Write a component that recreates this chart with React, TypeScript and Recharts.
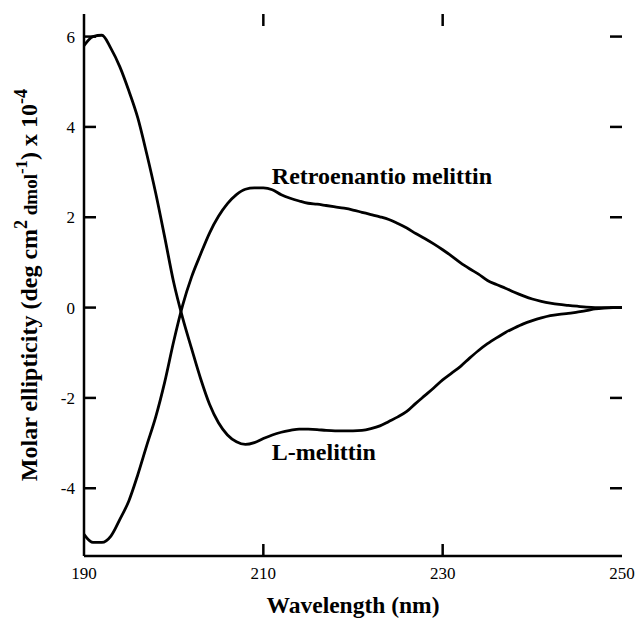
import React from 'react';
import { LineChart, Line, XAxis, YAxis, Label, ReferenceDot, ReferenceLine } from 'recharts';

// wavelength grid (nm)
const wavelengths = [
  190, 191, 192, 193, 194, 195, 196, 197, 198, 199,
  200, 201, 202, 203, 204, 205, 206, 207, 208, 209,
  210, 211, 212, 213, 214, 215, 216, 217, 218, 219,
  220, 221, 222, 223, 224, 225, 226, 227, 228, 229,
  230, 231, 232, 233, 234, 235, 236, 237, 238, 239,
  240, 241, 242, 243, 244, 245, 246, 247, 248, 249, 250,
];

// molar ellipticity x 10^-4
const lMelittin = [
  5.8, 6.0, 6.03, 5.74, 5.33, 4.8, 4.2, 3.4, 2.53, 1.56,
  0.56, -0.23, -0.91, -1.57, -2.14, -2.55, -2.82, -2.97, -3.03, -2.99,
  -2.9, -2.82, -2.76, -2.72, -2.69, -2.69, -2.7, -2.72, -2.73, -2.73,
  -2.73, -2.72, -2.68, -2.62, -2.52, -2.42, -2.3, -2.12, -1.95, -1.78,
  -1.6, -1.45, -1.3, -1.12, -0.95, -0.8, -0.67, -0.55, -0.45, -0.36,
  -0.29, -0.23, -0.18, -0.15, -0.13, -0.1, -0.07, -0.03, -0.01, 0, 0,
];

const retroMelittin = [
  -5.02, -5.2, -5.2, -5.06, -4.69, -4.28, -3.7, -3.05, -2.42, -1.65,
  -0.75, 0.05, 0.68, 1.18, 1.65, 2.02, 2.3, 2.5, 2.62, 2.65,
  2.65, 2.61, 2.5, 2.42, 2.36, 2.31, 2.29, 2.26, 2.23, 2.2,
  2.16, 2.11, 2.06, 2.01, 1.95, 1.86, 1.76, 1.64, 1.53, 1.41,
  1.28, 1.14, 0.99, 0.86, 0.74, 0.6, 0.51, 0.43, 0.34, 0.26,
  0.19, 0.14, 0.1, 0.07, 0.05, 0.03, 0.01, 0, 0, 0, 0,
];

const xTicks = [190, 210, 230, 250];
const yTicks = [-4, -2, 0, 2, 4, 6];
const xInnerTicks = [210, 230];

const data = wavelengths.map((w, i) => ({ w, l: lMelittin[i], r: retroMelittin[i] }));

const FONT = '"Liberation Serif", "Times New Roman", serif';
const X_DOMAIN: [number, number] = [190, 250];
const Y_DOMAIN: [number, number] = [-5.5, 6.5];
const PLOT_LEFT = 84;
const PLOT_RIGHT = 622;
const PLOT_TOP = 14;
const PLOT_BOTTOM = 556;
const TICK_LEN = 12;
const AXIS = { stroke: '#000', strokeWidth: 2.5 };

// one reference line per tick value, drawn only as two short inward marks at its ends
const HTicks = (props: any) => {
  const { x1, x2, y1 } = props;
  const lo = Math.min(x1, x2);
  const hi = Math.max(x1, x2);
  return (
    <g>
      <line x1={lo} x2={lo + TICK_LEN} y1={y1} y2={y1} stroke="#000" strokeWidth={2.5} />
      <line x1={hi} x2={hi - TICK_LEN} y1={y1} y2={y1} stroke="#000" strokeWidth={2.5} />
    </g>
  );
};

const VTicks = (props: any) => {
  const { x1, y1, y2 } = props;
  const lo = Math.min(y1, y2);
  const hi = Math.max(y1, y2);
  return (
    <g>
      <line x1={x1} x2={x1} y1={lo} y2={lo + TICK_LEN} stroke="#000" strokeWidth={2.5} />
      <line x1={x1} x2={x1} y1={hi} y2={hi - TICK_LEN} stroke="#000" strokeWidth={2.5} />
    </g>
  );
};

const YLabel = () => {
  const cx = 37;
  const cy = 285;
  return (
    <text x={cx} y={cy} transform={`rotate(-90 ${cx} ${cy})`} textAnchor="middle" fontFamily={FONT} fontSize={24} fontWeight="bold" fill="#000">
      <tspan>Molar ellipticity (deg cm</tspan>
      <tspan dy={-10} fontSize={18}>2</tspan>
      <tspan dy={10} fontSize={19}> dmol</tspan>
      <tspan dy={-10} fontSize={17}>-1</tspan>
      <tspan dy={10}>) x 10</tspan>
      <tspan dy={-10} fontSize={18}>-4</tspan>
    </text>
  );
};

const noteLabel = (text: string) => (props: any) => {
  const { viewBox } = props;
  return (
    <text x={viewBox.x} y={viewBox.y} fontFamily={FONT} fontSize={24} fontWeight="bold" fill="#000">
      {text}
    </text>
  );
};

// tick numbers, placed through the axis scales
const yTickLabel = (v: number) => (props: any) => {
  const { viewBox } = props;
  return (
    <text x={viewBox.x - 9} y={viewBox.y + 6} textAnchor="end" fontFamily={FONT} fontSize={17} fill="#000">
      {String(v)}
    </text>
  );
};

const xTickLabel = (v: number) => (props: any) => {
  const { viewBox } = props;
  return (
    <text x={viewBox.x} y={viewBox.y + 23} textAnchor="middle" fontFamily={FONT} fontSize={17} fill="#000">
      {String(v)}
    </text>
  );
};

export default function App() {
  if (typeof document !== 'undefined') document.body.style.margin = '0';
  return (
    <div style={{ width: 637, height: 622, background: '#fff' }}>
      <LineChart width={637} height={622} data={data} margin={{ top: PLOT_TOP, right: 637 - PLOT_RIGHT, bottom: 0, left: 0 }}>
        <XAxis dataKey="w" type="number" domain={X_DOMAIN} ticks={[]} height={622 - PLOT_BOTTOM} tick={false} tickLine={false} axisLine={AXIS} allowDataOverflow>
          <Label value="Wavelength (nm)" position="insideBottom" offset={9} style={{ fontFamily: FONT, fontSize: 23.5, fontWeight: 'bold', fill: '#000' }} />
        </XAxis>
        <XAxis xAxisId="top" dataKey="w" type="number" domain={X_DOMAIN} orientation="top" height={0} tick={false} tickLine={false} axisLine={AXIS} />
        <YAxis type="number" domain={Y_DOMAIN} ticks={[]} width={PLOT_LEFT} tick={false} tickLine={false} axisLine={AXIS} allowDataOverflow label={<YLabel />} />
        <YAxis yAxisId="right" orientation="right" type="number" domain={Y_DOMAIN} width={0} tick={false} tickLine={false} axisLine={AXIS} />
        {yTicks.map((v) => (
          <ReferenceLine key={`yt${v}`} y={v} stroke="#000" shape={HTicks} zIndex={2000} />
        ))}
        {xInnerTicks.map((v) => (
          <ReferenceLine key={`xt${v}`} x={v} stroke="#000" shape={VTicks} zIndex={2000} />
        ))}
        {yTicks.map((v) => (
          <ReferenceDot key={`yn${v}`} x={X_DOMAIN[0]} y={v} r={0} fill="none" stroke="none" label={yTickLabel(v)} />
        ))}
        {xTicks.map((v) => (
          <ReferenceDot key={`xn${v}`} x={v} y={Y_DOMAIN[0]} r={0} fill="none" stroke="none" label={xTickLabel(v)} />
        ))}
        <Line type="monotone" dataKey="l" stroke="#000" strokeWidth={2.8} dot={false} isAnimationActive={false} />
        <Line type="monotone" dataKey="r" stroke="#000" strokeWidth={2.8} dot={false} isAnimationActive={false} />
        <ReferenceDot x={210.95} y={2.73} r={0} fill="none" stroke="none" label={noteLabel('Retroenantio melittin')} />
        <ReferenceDot x={210.95} y={-3.38} r={0} fill="none" stroke="none" label={noteLabel('L-melittin')} />
      </LineChart>
    </div>
  );
}
